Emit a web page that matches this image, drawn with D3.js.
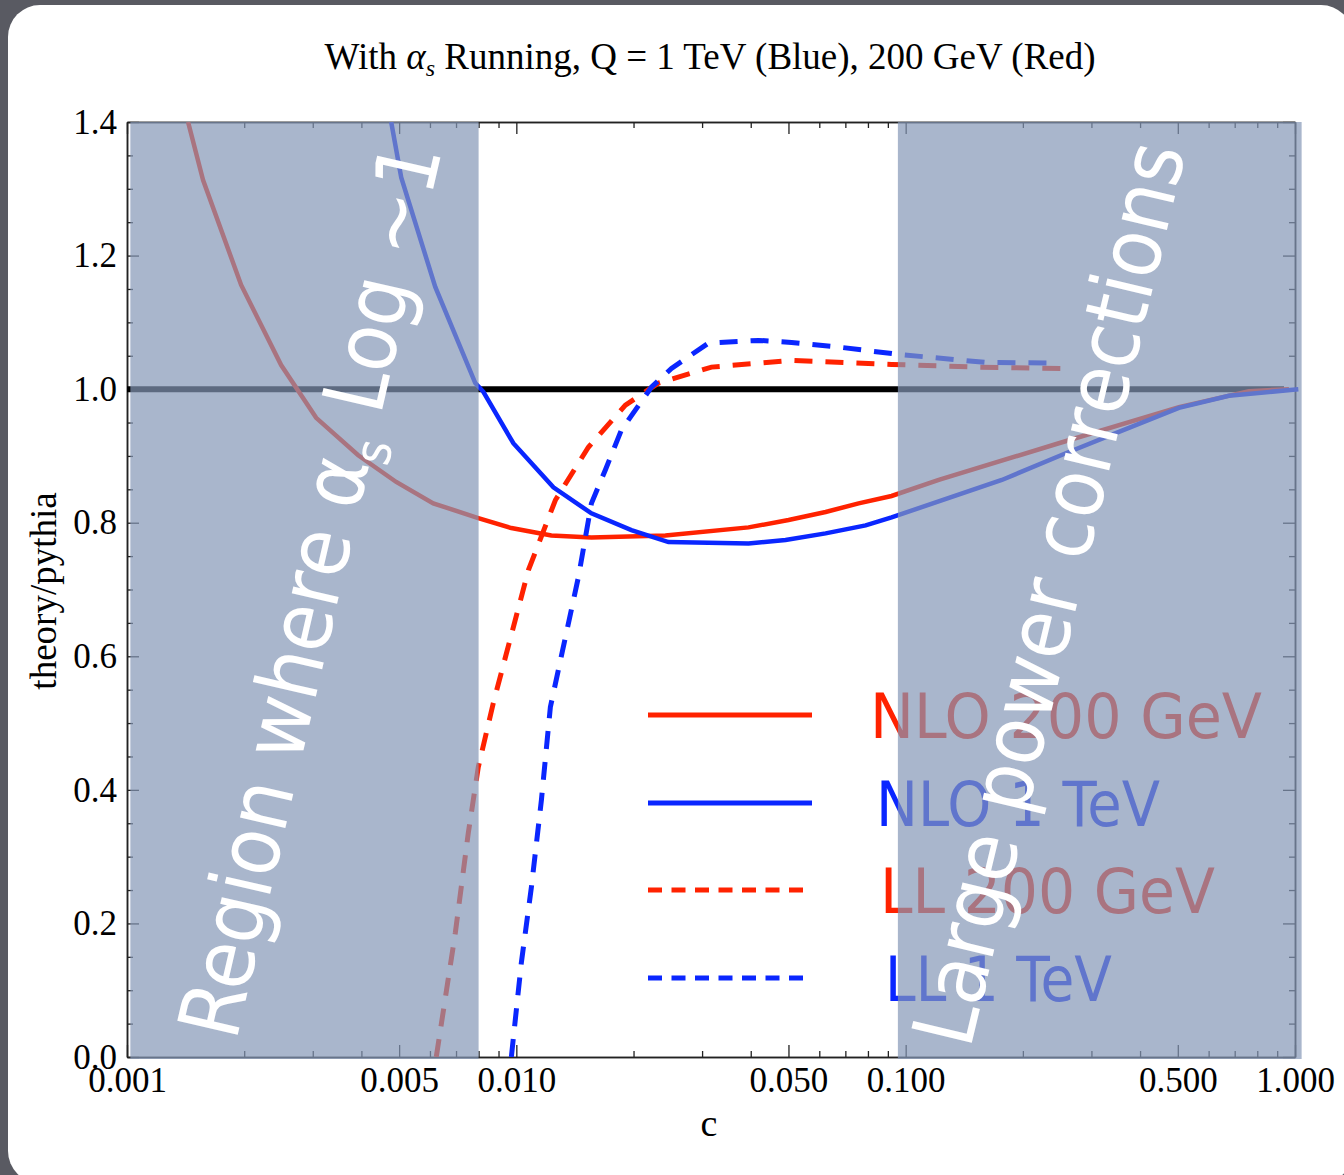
<!DOCTYPE html>
<meta charset="utf-8">
<style>
body { margin: 0; background: #595a62; }
svg { display: block; }
.serif { font-family: "Liberation Serif", "Times New Roman", serif; fill: #000; }
.hand { font-family: "DejaVu Sans", sans-serif; }
</style>
<svg width="1344" height="1175"></svg>
<script src="https://cdn.jsdelivr.net/npm/d3@7"></script>
<script>

// NLO, Q = 200 GeV (red, solid)
var nlo200C = [0.001435, 0.001568, 0.001964, 0.002488, 0.003061, 0.003925, 0.004915, 0.006119, 0.007985, 0.00971, 0.0123, 0.01559, 0.02415, 0.03948, 0.05003, 0.06228, 0.0757, 0.092, 0.1216, 0.2474, 0.5033, 0.7615, 0.965];
var nlo200 = [1.400, 1.313, 1.156, 1.036, 0.957, 0.901, 0.861, 0.829, 0.807, 0.792, 0.781, 0.778, 0.781, 0.793, 0.804, 0.816, 0.829, 0.840, 0.864, 0.919, 0.973, 0.997, 1.000];

// NLO, Q = 1 TeV (blue, solid)
var nlo1000C = [0.004771, 0.005062, 0.006191, 0.007844, 0.008228, 0.009824, 0.01245, 0.01559, 0.01975, 0.02459, 0.03948, 0.04914, 0.06228, 0.07893, 0.092, 0.1766, 0.2578, 0.3529, 0.5033, 0.6766, 1.02];
var nlo1000 = [1.400, 1.317, 1.153, 1.009, 0.996, 0.919, 0.853, 0.814, 0.789, 0.771, 0.769, 0.774, 0.784, 0.796, 0.808, 0.864, 0.904, 0.936, 0.972, 0.990, 1.000];

// LL, Q = 200 GeV (red, dashed)
var ll200C = [0.006228, 0.006971, 0.007525, 0.007985, 0.008727, 0.01074, 0.0126, 0.01531, 0.01906, 0.02317, 0.03171, 0.05093, 0.092, 0.1541, 0.2518];
var ll200 = [0.0, 0.186, 0.335, 0.434, 0.530, 0.729, 0.834, 0.913, 0.976, 1.009, 1.033, 1.043, 1.037, 1.033, 1.031];

// LL, Q = 1 TeV (blue, dashed)
var ll1000C = [0.00971, 0.0103, 0.01093, 0.0116, 0.01223, 0.01444, 0.01559, 0.01693, 0.01862, 0.02223, 0.02503, 0.03116, 0.04189, 0.05093, 0.06727, 0.0959, 0.1606, 0.2474];
var ll1000 = [0.0, 0.141, 0.254, 0.385, 0.524, 0.719, 0.829, 0.879, 0.939, 1.003, 1.031, 1.069, 1.073, 1.070, 1.063, 1.052, 1.040, 1.039];

// theory/pythia = 1 reference line
var refC = [0.001, 0.937];
var refV = [1, 1];

// shaded regions (c ranges)
var lowRegion = [0.00102, 0.0080];
var highRegion = [0.0955, 1.04];

var legendLabels = ["NLO 200 GeV", "NLO 1 TeV", "LL 200 GeV", "LL 1 TeV"];
var xMajor = [0.001, 0.005, 0.01, 0.05, 0.1, 0.5, 1];
var xMinor = [0.002, 0.003, 0.004, 0.006, 0.007, 0.008, 0.009,
              0.02, 0.03, 0.04, 0.06, 0.07, 0.08, 0.09,
              0.2, 0.3, 0.4, 0.6, 0.7, 0.8, 0.9];
var yMajor = [0, 0.2, 0.4, 0.6, 0.8, 1.0, 1.2, 1.4];
var yMinor = d3.range(0, 29).map(function(i) { return i * 0.05; })
    .filter(function(d) { return Math.abs(d * 5 - Math.round(d * 5)) > 1e-6; });

var red = "#ff2200", blue = "#0a26ff";

var svg = d3.select("svg");

// white slide panel
svg.append("rect")
    .attr("x", 8).attr("y", 5)
    .attr("width", 1345).attr("height", 1178)
    .attr("rx", 32)
    .attr("fill", "#fff");

var x = d3.scaleLog().domain([0.001, 1]).range([127, 1295]),
    y = d3.scaleLinear().domain([0, 1.4]).range([1057, 122]);

var plotL = x.range()[0], plotR = x.range()[1],
    plotT = y.range()[1], plotB = y.range()[0];

// frame with inward ticks on all four sides
function styleAxis(g) {
  g.select(".domain").attr("stroke", "#222").attr("stroke-width", 1.5);
  g.selectAll(".tick line").attr("stroke", "#222").attr("stroke-width", 1.3);
  g.selectAll("text").attr("class", "serif").attr("font-size", 35).attr("fill", "#000");
  g.attr("font-family", null).attr("font-size", null);
}

svg.append("g")
    .attr("transform", "translate(0," + plotB + ")")
    .call(d3.axisBottom(x).tickValues(xMajor).tickFormat(d3.format(".3f"))
        .tickSizeInner(-12).tickSizeOuter(0).tickPadding(10))
    .call(styleAxis);
svg.append("g")
    .attr("transform", "translate(0," + plotB + ")")
    .call(d3.axisBottom(x).tickValues(xMinor).tickFormat("").tickSizeInner(-6).tickSizeOuter(0))
    .call(styleAxis);
svg.append("g")
    .attr("transform", "translate(0," + plotT + ")")
    .call(d3.axisTop(x).tickValues(xMajor).tickFormat("").tickSizeInner(-12).tickSizeOuter(0))
    .call(styleAxis);
svg.append("g")
    .attr("transform", "translate(0," + plotT + ")")
    .call(d3.axisTop(x).tickValues(xMinor).tickFormat("").tickSizeInner(-6).tickSizeOuter(0))
    .call(styleAxis);
svg.append("g")
    .attr("transform", "translate(" + plotL + ",0)")
    .call(d3.axisLeft(y).tickValues(yMajor).tickFormat(d3.format(".1f"))
        .tickSizeInner(-12).tickSizeOuter(0).tickPadding(10))
    .call(styleAxis);
svg.append("g")
    .attr("transform", "translate(" + plotL + ",0)")
    .call(d3.axisLeft(y).tickValues(yMinor).tickFormat("").tickSizeInner(-6).tickSizeOuter(0))
    .call(styleAxis);
svg.append("g")
    .attr("transform", "translate(" + plotR + ",0)")
    .call(d3.axisRight(y).tickValues(yMajor).tickFormat("").tickSizeInner(-12).tickSizeOuter(0))
    .call(styleAxis);
svg.append("g")
    .attr("transform", "translate(" + plotR + ",0)")
    .call(d3.axisRight(y).tickValues(yMinor).tickFormat("").tickSizeInner(-6).tickSizeOuter(0))
    .call(styleAxis);

// curves
svg.append("clipPath").attr("id", "plotclip")
  .append("rect")
    .attr("x", plotL).attr("y", plotT)
    .attr("width", plotR - plotL + 6).attr("height", plotB - plotT);

var line = d3.line()
    .x(function(d) { return x(d[0]); })
    .y(function(d) { return y(d[1]); });

var plot = svg.append("g").attr("clip-path", "url(#plotclip)");

plot.append("path")
    .datum(d3.zip(refC, refV))
    .attr("d", line)
    .attr("fill", "none")
    .attr("stroke", "#000")
    .attr("stroke-width", 6);

var series = [
  {c: nlo200C, v: nlo200, color: red, dash: null},
  {c: nlo1000C, v: nlo1000, color: blue, dash: null},
  {c: ll200C, v: ll200, color: red, dash: "18,13"},
  {c: ll1000C, v: ll1000, color: blue, dash: "18,13"}
];

plot.selectAll(".curve")
    .data(series)
  .enter().append("path")
    .attr("class", "curve")
    .attr("d", function(s) { return line(d3.zip(s.c, s.v)); })
    .attr("fill", "none")
    .attr("stroke", function(s) { return s.color; })
    .attr("stroke-width", function(s) { return s.dash ? 5 : 4.5; })
    .attr("stroke-dasharray", function(s) { return s.dash; });

// legend (sits under the shaded overlay on the right)
var legendY = [715, 803, 890, 978],
    legendTextX = [870, 876, 880, 885],
    legendTextW = [392, 284, 335, 227];

var legend = svg.selectAll(".legend")
    .data(series)
  .enter().append("g")
    .attr("class", "legend");

legend.append("line")
    .attr("x1", 648)
    .attr("x2", function(s) { return s.dash ? 808 : 812; })
    .attr("y1", function(s, i) { return legendY[i]; })
    .attr("y2", function(s, i) { return legendY[i]; })
    .attr("stroke", function(s) { return s.color; })
    .attr("stroke-width", 5)
    .attr("stroke-dasharray", function(s) { return s.dash ? "14,9.5" : null; });

legend.append("text")
    .attr("class", "hand")
    .attr("x", function(s, i) { return legendTextX[i]; })
    .attr("y", function(s, i) { return legendY[i] + 23; })
    .attr("font-size", 62)
    .attr("textLength", function(s, i) { return legendTextW[i]; })
    .attr("lengthAdjust", "spacingAndGlyphs")
    .attr("fill", function(s) { return s.color; })
    .text(function(s, i) { return legendLabels[i]; });

// shaded regions
[lowRegion, highRegion].forEach(function(r) {
  svg.append("rect")
      .attr("x", x(r[0]))
      .attr("y", plotT)
      .attr("width", x(r[1]) - x(r[0]))
      .attr("height", plotB - plotT + 2)
      .attr("fill", "rgb(133,151,183)")
      .attr("fill-opacity", 0.7);
});

// slanted white notes
function note(parts, x0, y0, angle, len, size) {
  var t = svg.append("text")
      .attr("class", "hand")
      .attr("font-size", size)
      .attr("fill", "#fff");
  parts.forEach(function(p) {
    var ts = t.append("tspan").text(p.t);
    if (p.sub) ts.attr("font-size", size * 0.6).attr("dy", size * 0.22);
    if (p.after) ts.attr("dy", -size * 0.22);
  });
  var w = t.node().getComputedTextLength();
  t.attr("transform", "translate(" + x0 + "," + y0 + ") rotate(" + angle + ") scale(" + (len / w) + ",1)");
}

note([{t: "Region where α"}, {t: "s", sub: true}, {t: " Log ~1", after: true}], 236, 1042, -77, 915, 85);
note([{t: "Large power corrections"}], 970, 1050, -76.5, 925, 85);

// title and axis labels
var title = svg.append("text")
    .attr("class", "serif")
    .attr("x", 710).attr("y", 69)
    .attr("text-anchor", "middle")
    .attr("font-size", 37);
title.append("tspan").text("With ");
title.append("tspan").attr("font-style", "italic").text("α");
title.append("tspan").attr("font-style", "italic").attr("font-size", 24).attr("dy", 7).text("s");
title.append("tspan").attr("dy", -7).text(" Running, Q = 1 TeV (Blue), 200 GeV (Red)");

svg.append("text")
    .attr("class", "serif")
    .attr("transform", "translate(56,591) rotate(-90)")
    .attr("text-anchor", "middle")
    .attr("font-size", 37)
    .text("theory/pythia");

svg.append("text")
    .attr("class", "serif")
    .attr("x", 709).attr("y", 1136)
    .attr("text-anchor", "middle")
    .attr("font-size", 38)
    .text("c");

</script>
